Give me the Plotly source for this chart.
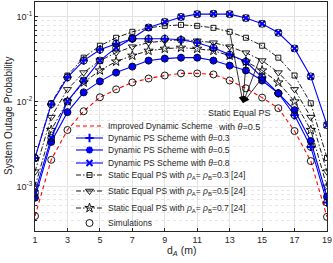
import plotly.graph_objects as go

# ---------------- data ----------------
d_A = [1, 2, 3, 4, 5, 6, 7, 8, 9, 10, 11, 12, 13, 14, 15, 16, 17, 18, 19]

improved = [4.5e-4, 2.07e-3, 4.65e-3, 7.74e-3, 1.13e-2, 1.40e-2, 1.69e-2, 1.88e-2, 2.04e-2, 2.16e-2,
            2.16e-2, 2.10e-2, 1.78e-2, 1.44e-2, 1.12e-2, 8.4e-3, 4.52e-3, 2.0e-3, 4.4e-4]
dyn_03 = [2.18e-3, 9.35e-3, 1.94e-2, 3.06e-2, 4.11e-2, 4.83e-2, 5.53e-2, 5.53e-2, 5.53e-2, 5.38e-2,
          4.97e-2, 4.34e-2, 3.59e-2, 2.98e-2, 1.94e-2, 1.26e-2, 6.95e-3, 2.94e-3, 6.5e-4]
dyn_05 = [7.4e-4, 3.36e-3, 7.54e-3, 1.29e-2, 1.74e-2, 2.21e-2, 2.60e-2, 3.06e-2, 3.23e-2, 3.31e-2,
          3.31e-2, 3.06e-2, 2.67e-2, 2.34e-2, 1.78e-2, 1.26e-2, 7.96e-3, 3.45e-3, 7.6e-4]
dyn_08 = [8.5e-4, 3.74e-3, 1.01e-2, 1.78e-2, 3.06e-2, 4.34e-2, 5.6e-2, 7.5e-2, 8.74e-2, 0.100,
          0.108, 0.109, 0.108, 0.097, 0.083, 0.065, 0.0425, 0.0199, 0.00531]
static_03 = [2.18e-3, 9.6e-3, 2.04e-2, 3.31e-2, 4.58e-2, 5.68e-2, 6.68e-2, 7.44e-2, 7.85e-2, 8.06e-2,
             7.85e-2, 7.44e-2, 6.68e-2, 5.68e-2, 4.58e-2, 3.31e-2, 2.04e-2, 9.6e-3, 2.18e-3]
static_05 = [1.5e-3, 6.59e-3, 1.40e-2, 2.21e-2, 3.06e-2, 3.79e-2, 4.46e-2, 4.97e-2, 5.24e-2, 5.38e-2,
             5.24e-2, 4.97e-2, 4.46e-2, 3.79e-2, 3.06e-2, 2.21e-2, 1.40e-2, 6.59e-3, 1.5e-3]
static_07 = [1.0e-3, 4.65e-3, 1.01e-2, 1.69e-2, 2.34e-2, 2.98e-2, 3.50e-2, 4.0e-2, 4.22e-2, 4.34e-2,
             4.22e-2, 4.0e-2, 3.50e-2, 2.98e-2, 2.34e-2, 1.69e-2, 1.01e-2, 4.65e-3, 1.0e-3]

x_ticks = [1, 3, 5, 7, 9, 11, 13, 15, 17, 19]
y_tickvals = [1e-3, 1e-2, 1e-1]
y_ticktext = ["10<sup>-3</sup>", "10<sup>-2</sup>", "10<sup>-1</sup>"]

legend_labels = [
    "Improved Dynamic Scheme",
    "Dynamic PS Scheme with <i>θ</i>=0.3",
    "Dynamic PS Scheme with <i>θ</i>=0.5",
    "Dynamic PS Scheme with <i>θ</i>=0.8",
    "Static Equal PS with <i>ρ</i><sub>A</sub>= <i>ρ</i><sub>B</sub>=0.3 [24]",
    "Static Equal PS with <i>ρ</i><sub>A</sub>= <i>ρ</i><sub>B</sub>=0.5 [24]",
    "Static Equal PS with <i>ρ</i><sub>A</sub>= <i>ρ</i><sub>B</sub>=0.7 [24]",
    "Simulations",
]

# ---------------- styles ----------------
BLUE = "#0000FF"
RED = "#FF0000"
BLK = "#000000"
TXT = "#262626"
FONT = "Liberation Sans, Arial, sans-serif"
DASHDOT = "5px,2px,1.5px,2px"

series = [
    # (values, color, dash, symbol, size, marker line width)
    (static_03, BLK, DASHDOT, "square-open", 5, 0.9),
    (static_05, BLK, DASHDOT, "triangle-down-open", 7, 0.9),
    (static_07, BLK, DASHDOT, "star-open", 7, 0.9),
    (dyn_03, BLUE, "solid", "cross-thin", 6, 2),
    (dyn_05, BLUE, "solid", "asterisk", 6, 2),
    (dyn_08, BLUE, "solid", "x-thin", 6, 2),
]

fig = go.Figure()

for vals, col, dash, sym, sz, mw in series:
    fig.add_trace(go.Scatter(
        x=d_A, y=vals, mode="lines+markers",
        line=dict(color=col, width=0.9 if col == BLK else 1.1, dash=dash),
        marker=dict(symbol=sym, size=sz, color=col, line=dict(color=col, width=mw)),
        showlegend=False, xaxis="x", yaxis="y"))

fig.add_trace(go.Scatter(
    x=d_A, y=improved, mode="lines",
    line=dict(color=RED, width=1.1, dash="4px,3px"),
    showlegend=False))

for vals in (improved, dyn_03, dyn_05, dyn_08):
    fig.add_trace(go.Scatter(
        x=d_A, y=vals, mode="markers",
        marker=dict(symbol="circle-open", size=7, color=BLK, line=dict(color=BLK, width=0.9)),
        showlegend=False))

# ---------------- custom legend (overlay pixel axes) ----------------
rows = [126, 138, 150, 163, 175, 191, 208, 223]
key_x0, key_x1, key_mx, txt_x = 76, 103, 89.5, 106
key_styles = [
    (RED, "4px,3px", None, 0, 0, True),
    (BLUE, "solid", "cross-thin", 6, 2, True),
    (BLUE, "solid", "asterisk", 6, 2, True),
    (BLUE, "solid", "x-thin", 6, 2, True),
    (BLK, DASHDOT, "square-open", 5, 0.9, True),
    (BLK, DASHDOT, "triangle-down-open", 7, 0.9, True),
    (BLK, DASHDOT, "star-open", 7, 0.9, True),
    (BLK, None, "circle-open", 7, 0.9, False),
]
for ry, (col, dash, sym, sz, mw, has_line) in zip(rows, key_styles):
    if has_line:
        fig.add_trace(go.Scatter(
            x=[key_x0, key_x1], y=[ry, ry], mode="lines",
            line=dict(color=col, width=1.1 if col != BLK else 0.9, dash=dash),
            showlegend=False, xaxis="x2", yaxis="y2", hoverinfo="skip"))
    if sym:
        fig.add_trace(go.Scatter(
            x=[key_mx], y=[ry], mode="markers",
            marker=dict(symbol=sym, size=sz, color=col, line=dict(color=col, width=mw)),
            showlegend=False, xaxis="x2", yaxis="y2", hoverinfo="skip"))

annotations = []
for ry, lab in zip(rows, legend_labels):
    annotations.append(dict(
        x=txt_x, y=ry, xref="x2", yref="y2", text=lab, showarrow=False,
        xanchor="left", yanchor="middle", font=dict(family=FONT, size=8.5, color=TXT)))

# arrows "Static Equal PS"
tip = (243, 103)
for tx, ty in [(230, 33), (246, 62), (260, 58), (262, 78)]:
    annotations.append(dict(
        x=tip[0], y=tip[1], ax=tx, ay=ty, xref="x2", yref="y2", axref="x2", ayref="y2",
        text="", showarrow=True, arrowhead=2, arrowsize=1.6, arrowwidth=0.8, arrowcolor=BLK,
        standoff=0, startstandoff=0))
annotations.append(dict(x=239, y=113, xref="x2", yref="y2", text="Static Equal PS", showarrow=False,
                        xanchor="center", yanchor="middle", font=dict(family=FONT, size=9, color=TXT)))
annotations.append(dict(x=239, y=127, xref="x2", yref="y2", text="with <i>θ</i>=0.5", showarrow=False,
                        xanchor="center", yanchor="middle", font=dict(family=FONT, size=9, color=TXT)))

# axis titles (paper coordinates: plot area spans x 35..327 px, y 2..231 px)
annotations.append(dict(x=(8 - 35) / 292, y=(231 - 116) / 229, xref="paper", yref="paper",
                        text="System Outage Probability",
                        textangle=-90, showarrow=False, xanchor="center", yanchor="middle",
                        font=dict(family=FONT, size=10, color=TXT)))
annotations.append(dict(x=(181 - 35) / 292, y=(231 - 251) / 229, xref="paper", yref="paper",
                        text="d<sub><i>A</i></sub> (m)",
                        showarrow=False, xanchor="center", yanchor="middle",
                        font=dict(family=FONT, size=10.5, color=TXT)))

GRID = "#e3e3e3"
fig.update_layout(
    width=333, height=263,
    margin=dict(l=35, r=6, t=2, b=32, autoexpand=False),
    paper_bgcolor="white", plot_bgcolor="white",
    showlegend=False,
    font=dict(family=FONT, size=9, color=TXT),
    xaxis=dict(range=[1, 19], tickvals=x_ticks, ticks="inside", ticklen=3, tickcolor=TXT,
               showline=True, linecolor=TXT, linewidth=1, mirror=True, automargin=False,
               showgrid=True, gridcolor=GRID, gridwidth=1, zeroline=False,
               tickfont=dict(size=9)),
    yaxis=dict(type="log", range=[-3.523, -0.824], tickvals=y_tickvals, ticktext=y_ticktext,
               ticks="inside", ticklen=3, tickcolor=TXT, automargin=False,
               showline=True, linecolor=TXT, linewidth=1, mirror=True,
               showgrid=True, gridcolor=GRID, gridwidth=1, zeroline=False,
               minor=dict(dtick="D1", showgrid=True, gridcolor="#e6e6e6", griddash="dot",
                          ticks="inside", ticklen=2, tickcolor=TXT),
               tickfont=dict(size=9)),
    xaxis2=dict(range=[35, 327], overlaying="x", anchor="y2", visible=False, fixedrange=True,
                automargin=False),
    yaxis2=dict(range=[231, 2], overlaying="y", anchor="x2", visible=False, fixedrange=True,
                automargin=False),
    annotations=annotations,
)

fig.write_html("out.html", config={"displayModeBar": False},
               post_script="document.body.style.margin='0px';")
